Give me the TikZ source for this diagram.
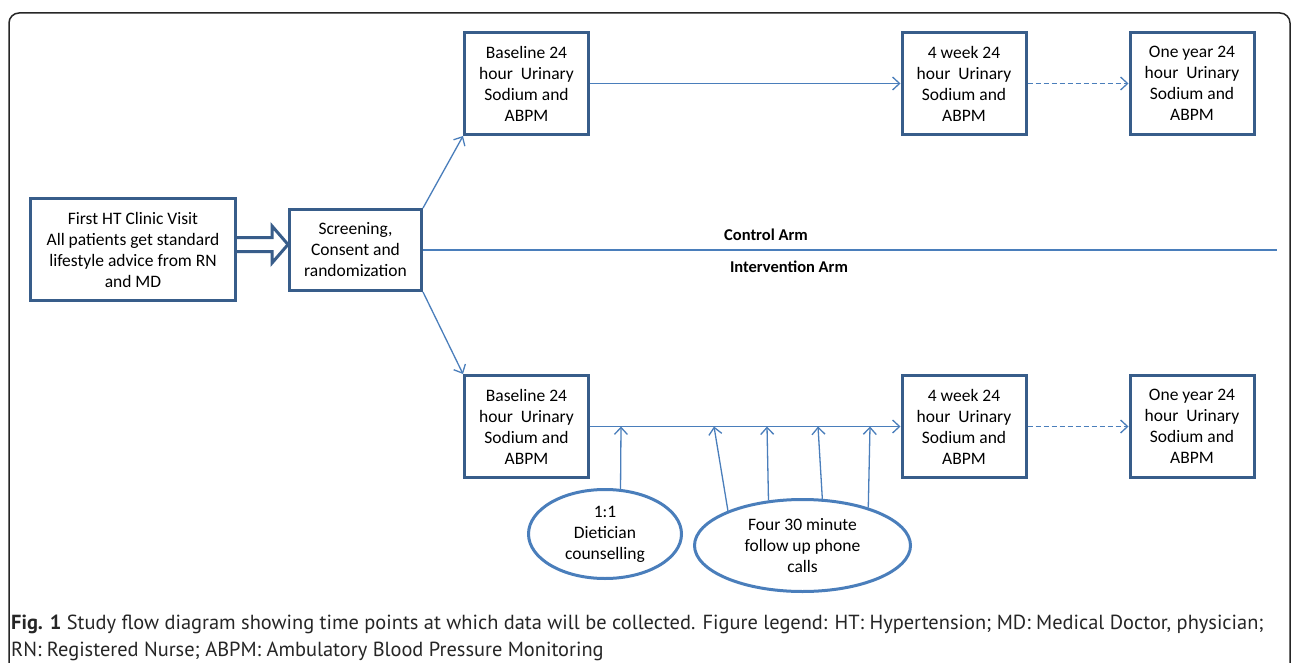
\documentclass[tikz,border=0pt]{standalone}
\usepackage{fontspec}
\setmainfont{Carlito}
\newfontfamily\capfont{PT Sans}
\usetikzlibrary{arrows.meta,shapes.geometric,calc}
\definecolor{boxblue}{HTML}{385D8A}
\definecolor{lineblue}{HTML}{4A7EBB}
\begin{document}
\begin{tikzpicture}[x=1pt,y=-1pt,
  box/.style={draw=boxblue, line width=3pt, minimum width=124pt, minimum height=102pt,
    align=center, inner sep=0pt, font=\fontsize{17.5}{21}\selectfont},
  conn/.style={draw=lineblue, line width=1.3pt, -{Straight Barb[length=7pt,width=13pt]}},
  ell/.style={ellipse, draw=lineblue, line width=3pt, inner sep=0pt, align=center,
    font=\fontsize{17.5}{21}\selectfont},
  arm/.style={font=\bfseries\fontsize{16.5}{20}\selectfont, inner sep=0pt},
  capt/.style={anchor=base west, inner sep=0pt, text=black!85, font=\capfont\fontsize{20.4}{27}\selectfont}]
\useasboundingbox (0,0) rectangle (1292,663);
\fill[white] (0,0) rectangle (1292,663);
\draw[line width=1.5pt, black!85, rounded corners=10pt] (9,663) -- (9,13) -- (1290,13) -- (1290,663);

% boxes
\node[box, minimum width=205pt] (b1) at (133,249.5) {First HT Clinic Visit\\All patients get standard\\lifestyle advice from RN\\and MD};
\node[box, minimum width=132pt, minimum height=81pt] (b2) at (355.5,250) {Screening,\\Consent and\\randomization};
\node[box] (tb) at (526.5,83.5) {Baseline 24\\hour~ Urinary\\Sodium and\\ABPM};
\node[box] (tw) at (964,83.5) {4 week 24\\hour~ Urinary\\Sodium and\\ABPM};
\node[box] (ty) at (1192,83.5) {One year 24\\hour~ Urinary\\Sodium and\\ABPM};
\node[box] (bb) at (526.5,426.5) {Baseline 24\\hour~ Urinary\\Sodium and\\ABPM};
\node[box] (bw) at (964,426.5) {4 week 24\\hour~ Urinary\\Sodium and\\ABPM};
\node[box] (by) at (1192,426.5) {One year 24\\hour~ Urinary\\Sodium and\\ABPM};

% ellipses
\node[ell, minimum width=153pt, minimum height=89pt] (e1) at (605,534) {1:1\\Dietician\\counselling};
\node[ell, minimum width=216pt, minimum height=92pt] (e2) at (802.5,545.5) {Four 30 minute\\follow up phone\\calls};

% arm labels
\node[arm] (ca) at (766,235) {Control Arm};
\node[arm] (ia) at (789,267) {Intervention Arm};

% hollow block arrow from b1 to b2
\coordinate (tip) at ([yshift=5.5pt]b2.west);
\coordinate (sa) at ($(tip)+(-16,-7)$);
\coordinate (ha) at ($(tip)+(-16,-18.5)$);
\coordinate (hb) at ($(tip)+(-16,18.5)$);
\coordinate (sb) at ($(tip)+(-16,7)$);
\draw[boxblue, line width=3pt, line join=miter, fill=white]
  (b1.east |- sa) -- (sa) -- (ha) -- (tip) -- (hb) -- (sb) -- (b1.east |- sb);

% connectors
\draw[conn] (b2.north east) -- (tb.south west);
\draw[conn] (b2.south east) -- (bb.north west);
\coordinate (ctrlend) at (1277,250);
\draw[lineblue, line width=1.5pt] (b2.east) -- (ctrlend);
\draw[conn] (tb) -- (tw);
\draw[conn, dash pattern=on 5pt off 3pt] (tw) -- (ty);
\draw[conn] (bb) -- (bw);
\draw[conn, dash pattern=on 5pt off 3pt] (bw) -- (by);

\coordinate (p1) at (621,426.5);
\coordinate (p2) at (714,426.5);
\coordinate (p3) at (767,426.5);
\coordinate (p4) at (818,426.5);
\coordinate (p5) at (870,426.5);
\draw[conn] (e1.71) -- (p1);
\draw[conn] (e2.155) -- (p2);
\draw[conn] (e2.127) -- (p3);
\draw[conn] (e2.67) -- (p4);
\draw[conn] (e2.30) -- (p5);

% caption
\node[capt] (cap1) at (11,629) {\textbf{Fig. 1} Study flow diagram showing time points at which data will be collected. Figure legend: HT: Hypertension; MD: Medical Doctor, physician;};
\node[capt] (cap2) at (11,656) {RN: Registered Nurse; ABPM: Ambulatory Blood Pressure Monitoring};
\end{tikzpicture}
\end{document}
